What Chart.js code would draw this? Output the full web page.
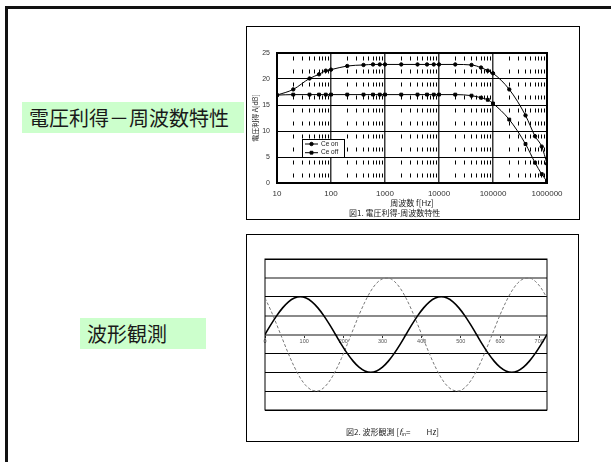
<!DOCTYPE html>
<html>
<head>
<meta charset="utf-8">
<script src="https://cdn.jsdelivr.net/npm/chart.js@4/dist/chart.umd.min.js"></script>
<style>
html,body{margin:0;padding:0;background:#fff;}
body{width:611px;height:462px;position:relative;overflow:hidden;font-family:"Liberation Sans","Noto Sans CJK JP",sans-serif;}
.slide{position:absolute;left:5px;top:6px;width:640px;height:480px;border-left:3px solid #111;border-top:3px solid #111;}
.tag{position:absolute;background:#ccffcc;font-family:"Noto Sans CJK JP",sans-serif;font-size:20px;color:#1a1a1a;line-height:31px;height:31px;padding-left:7px;box-sizing:border-box;white-space:nowrap;}
.box{position:absolute;border:1px solid #000;box-sizing:border-box;}
canvas{position:absolute;}
.cap{position:absolute;font-family:"Noto Sans CJK JP",sans-serif;font-size:8px;color:#222;white-space:pre;line-height:8px;}
.cap sub{font-size:5px;vertical-align:-1px;line-height:0;}
</style>
</head>
<body>
<div class="slide"></div>

<div class="tag" style="left:22px;top:102px;width:222px;">電圧利得－周波数特性</div>
<div class="tag" style="left:80px;top:318px;width:126px;">波形観測</div>

<div class="box" style="left:246px;top:26px;width:334px;height:194px;"></div>
<canvas id="gain" width="333" height="193" style="left:246px;top:26px;"></canvas>
<div class="cap" style="left:349px;top:209px;">図1. 電圧利得-周波数特性</div>

<div class="box" style="left:246px;top:234px;width:333px;height:208px;"></div>
<canvas id="wave" width="332" height="207" style="left:246px;top:234px;"></canvas>
<div class="cap" style="left:346px;top:428px;">図2. 波形観測 [<i>f</i><sub>in</sub>=         Hz]</div>

<script>
// ---- Fig.1: voltage gain vs frequency ----
const freqHz = [10, 20, 40, 60, 80, 100, 200, 400, 600, 800, 1000, 2000, 4000, 6000, 8000,
                10000, 20000, 40000, 60000, 80000, 100000, 200000, 400000, 600000, 800000, 1000000];
const gainCeOn  = [16.9, 18.0, 20.1, 20.9, 21.6, 21.8, 22.5, 22.7, 22.8, 22.8, 22.8, 22.8, 22.8, 22.8, 22.8,
                   22.8, 22.8, 22.7, 22.2, 21.6, 21.1, 18.0, 13.0, 9.0, 7.0, 3.7];
const gainCeOff = [16.9, 17.0, 17.0, 17.0, 17.0, 17.0, 17.0, 17.0, 17.0, 17.0, 17.0, 17.0, 17.0, 17.0, 17.0,
                   17.0, 17.0, 16.8, 16.4, 16.0, 15.3, 12.2, 7.5, 3.9, 1.7, 0.3];
const decadeTicks = [10, 100, 1000, 10000, 100000, 1000000];
const minorTicks = [20,30,40,50,60,70,80,90, 200,300,400,500,600,700,800,900,
                    2000,3000,4000,5000,6000,7000,8000,9000, 20000,30000,40000,50000,60000,70000,80000,90000,
                    200000,300000,400000,500000,600000,700000,800000,900000];
const gainTicks = [0, 5, 10, 15, 20, 25];

// ---- Fig.2: waveform observation ----
const phaseDeg = [0,15,30,45,60,75,90,105,120,135,150,165,180,195,210,225,240,255,270,285,300,315,330,345,
                  360,375,390,405,420,435,450,465,480,495,510,525,540,555,570,585,600,615,630,645,660,675,690,705,720];
const inputWave = [0,0.52,1.00,1.41,1.73,1.93,2.00,1.93,1.73,1.41,1.00,0.52,0,-0.52,-1.00,-1.41,-1.73,-1.93,-2.00,-1.93,-1.73,-1.41,-1.00,-0.52,
                   0,0.52,1.00,1.41,1.73,1.93,2.00,1.93,1.73,1.41,1.00,0.52,0,-0.52,-1.00,-1.41,-1.73,-1.93,-2.00,-1.93,-1.73,-1.41,-1.00,-0.52,0];
const outputWave = [1.93,1.27,0.52,-0.26,-1.03,-1.72,-2.30,-2.72,-2.95,-2.99,-2.82,-2.46,-1.93,-1.27,-0.52,0.26,1.03,1.72,2.30,2.72,2.95,2.99,2.82,2.46,
                    1.93,1.27,0.52,-0.26,-1.03,-1.72,-2.30,-2.72,-2.95,-2.99,-2.82,-2.46,-1.93,-1.27,-0.52,0.26,1.03,1.72,2.30,2.72,2.95,2.99,2.82,2.46,1.93];
const phaseTicks = [0, 100, 200, 300, 400, 500, 600, 700];
const levelTicks = [-4, -3, -2, -1, 0, 1, 2, 3, 4];

const LATIN = '"Liberation Sans","Noto Sans CJK JP",sans-serif';
const CJK = '"Noto Sans CJK JP",sans-serif';

// frame around the plotting area
const plotFrame = {
  id: 'plotFrame',
  beforeDatasetsDraw(chart, args, opts) {
    const {ctx, chartArea: a} = chart;
    ctx.save();
    ctx.strokeStyle = '#000';
    ctx.lineWidth = opts.width || 1;
    ctx.strokeRect(a.left, a.top, a.right - a.left, a.bottom - a.top);
    ctx.restore();
  }
};

// small boxed legend inside the plotting area
const insetLegend = {
  id: 'insetLegend',
  afterDraw(chart) {
    const {ctx, chartArea: a} = chart;
    const x = a.left + 25, y = a.top + 86, w = 42, h = 18;
    ctx.save();
    ctx.fillStyle = '#fff';
    ctx.fillRect(x, y, w, h);
    ctx.strokeStyle = '#000';
    ctx.lineWidth = 1;
    ctx.strokeRect(x + 0.5, y + 0.5, w, h);
    chart.data.datasets.forEach((ds, i) => {
      const cy = y + 5 + i * 8.7;
      ctx.strokeStyle = ds.borderColor;
      ctx.lineWidth = 1;
      ctx.beginPath();
      ctx.moveTo(x + 3, cy);
      ctx.lineTo(x + 16, cy);
      ctx.stroke();
      ctx.fillStyle = ds.pointBackgroundColor;
      Chart.helpers.drawPoint(ctx, {pointStyle: ds.pointStyle, radius: ds.pointRadius, borderWidth: 1, rotation: 0}, x + 9.5, cy);
      ctx.fillStyle = '#222';
      ctx.font = '6.5px ' + LATIN;
      ctx.textBaseline = 'middle';
      ctx.textAlign = 'left';
      ctx.fillText(ds.label, x + 19, cy);
    });
    ctx.restore();
  }
};

new Chart(document.getElementById('gain'), {
  type: 'line',
  data: {
    labels: freqHz,
    datasets: [
      {label: 'Ce on', data: freqHz.map((f, i) => ({x: f, y: gainCeOn[i]})),
       borderColor: '#000', borderWidth: 1, pointStyle: 'circle', pointRadius: 1.7,
       pointBackgroundColor: '#000', pointBorderColor: '#000', cubicInterpolationMode: 'monotone', xAxisID: 'x'},
      {label: 'Ce off', data: freqHz.map((f, i) => ({x: f, y: gainCeOff[i]})),
       borderColor: '#000', borderWidth: 1, pointStyle: 'rect', pointRadius: 2,
       pointBackgroundColor: '#000', pointBorderColor: '#000', cubicInterpolationMode: 'monotone', xAxisID: 'x'}
    ]
  },
  options: {
    responsive: false,
    animation: false,
    layout: {padding: {left: 0, top: 27, right: 32, bottom: 11}},
    plugins: {legend: {display: false}, tooltip: {enabled: false}, plotFrame: {width: 2}},
    scales: {
      x: {
        type: 'logarithmic', min: 10, max: 1000000, position: 'bottom',
        afterBuildTicks: s => { s.ticks = decadeTicks.map(v => ({value: v})); },
        afterFit: s => { s.height = 25; },
        grid: {color: '#3a3a3a', lineWidth: 1.5, drawTicks: false},
        border: {display: false},
        ticks: {autoSkip: false, maxRotation: 0, padding: 6, color: '#333',
                font: {size: 8, family: LATIN}, callback: v => String(v)},
        title: {display: true, text: '周波数 f[Hz]', color: '#222',
                font: {size: 8, family: CJK}, padding: {top: 0, bottom: 0}}
      },
      xMinor: {
        type: 'logarithmic', min: 10, max: 1000000, position: 'bottom',
        afterBuildTicks: s => { s.ticks = minorTicks.map(v => ({value: v})); },
        afterFit: s => { s.height = 0; },
        grid: {color: '#000', lineWidth: 1, drawTicks: false},
        border: {display: false, dash: [4, 9], dashOffset: 9.5},
        ticks: {display: false}
      },
      y: {
        min: 0, max: 25,
        afterBuildTicks: s => { s.ticks = gainTicks.map(v => ({value: v})); },
        afterFit: s => { s.width = 31; },
        grid: {color: '#000', lineWidth: 1, drawTicks: false},
        border: {display: false},
        ticks: {padding: 7, color: '#333', font: {size: 7, family: LATIN}},
        title: {display: true, text: '電圧利得 A[dB]', color: '#222',
                font: {size: 7, family: CJK}, padding: {top: 5, bottom: 0}}
      }
    }
  },
  plugins: [plotFrame, insetLegend]
});

const levelColor = v => (v === 3 || v === 1 || v === 0) ? '#8a8a8a' : '#000';
const levelWidth = v => (v === 3 || v === 1 || v === 0) ? 2 : 1;

new Chart(document.getElementById('wave'), {
  type: 'line',
  data: {
    datasets: [
      {label: 'in', data: phaseDeg.map((p, i) => ({x: p, y: inputWave[i]})),
       borderColor: '#000', borderWidth: 1.6, pointRadius: 0, cubicInterpolationMode: 'monotone'},
      {label: 'out', data: phaseDeg.map((p, i) => ({x: p, y: outputWave[i]})),
       borderColor: '#777', borderWidth: 1, borderDash: [3, 2], pointRadius: 0, cubicInterpolationMode: 'monotone'}
    ]
  },
  options: {
    responsive: false,
    animation: false,
    layout: {padding: {left: 19, top: 25, right: 31, bottom: 31}},
    plugins: {legend: {display: false}, tooltip: {enabled: false}, plotFrame: {width: 1}},
    scales: {
      x: {
        type: 'linear', min: 0, max: 720, position: {y: 0},
        afterBuildTicks: s => { s.ticks = phaseTicks.map(v => ({value: v})); },
        grid: {drawOnChartArea: false, drawTicks: true, tickLength: 3, tickColor: '#333', tickWidth: 1},
        border: {display: false},
        ticks: {autoSkip: false, maxRotation: 0, padding: 1, color: '#555', font: {size: 5.5, family: LATIN}}
      },
      y: {
        min: -4, max: 4,
        afterBuildTicks: s => { s.ticks = levelTicks.map(v => ({value: v})); },
        afterFit: s => { s.width = 0; },
        grid: {drawTicks: false, color: c => levelColor(c.tick.value), lineWidth: c => levelWidth(c.tick.value)},
        border: {display: false},
        ticks: {display: false}
      }
    }
  },
  plugins: [plotFrame]
});
</script>
</body>
</html>
